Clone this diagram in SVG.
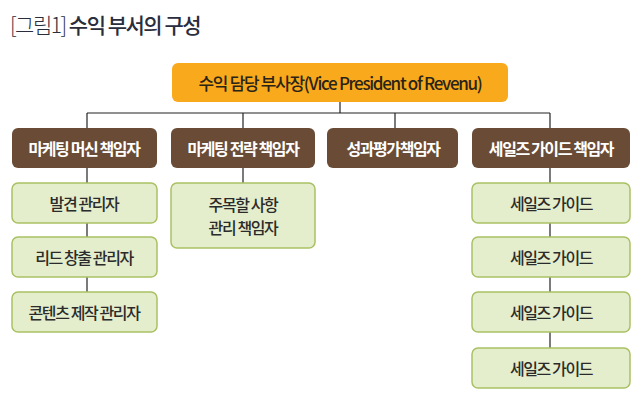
<svg xmlns="http://www.w3.org/2000/svg" width="640" height="402" viewBox="0 0 640 402">
<style>
text{font-family:"Noto Sans CJK KR","Noto Sans",sans-serif;text-anchor:middle;dominant-baseline:central}
.top{fill:#F8A91C}
.brown{fill:#6A4C36}
.green{fill:#E4EDCC;stroke:#A9C163;stroke-width:1.5}
.t1{font-size:16px;font-weight:700;fill:#ffffff;letter-spacing:-1.4px}
.t2{font-size:16px;font-weight:500;fill:#2b2b2b;letter-spacing:-1.4px}
.conn line{stroke:#222;stroke-width:1.2}
</style>
<rect width="640" height="402" fill="#ffffff"/>
<text id="title" x="10" y="24" style="text-anchor:start;font-size:21px;fill:#2a2d3c;letter-spacing:-1.5px"><tspan font-weight="300">[그림1]</tspan><tspan font-weight="500"> 수익 부서의 구성</tspan></text>
<g id="connectors" class="conn">
<line x1="340" y1="102" x2="340" y2="113"/>
<line x1="87" y1="113" x2="550" y2="113"/>
<line x1="87" y1="113" x2="87" y2="128"/>
<line x1="243" y1="113" x2="243" y2="128"/>
<line x1="395" y1="113" x2="395" y2="128"/>
<line x1="550" y1="113" x2="550" y2="128"/>
<line x1="87" y1="168" x2="87" y2="183"/>
<line x1="87" y1="223" x2="87" y2="237"/>
<line x1="87" y1="277" x2="87" y2="292"/>
<line x1="243" y1="168" x2="243" y2="183"/>
<line x1="550" y1="168" x2="550" y2="183"/>
<line x1="550" y1="223" x2="550" y2="237"/>
<line x1="550" y1="277" x2="550" y2="292"/>
<line x1="550" y1="332" x2="550" y2="348"/>
</g>
<g id="vp"><rect class="top" x="172" y="63" width="336" height="39" rx="6"/><text x="340" y="82" style="font-size:17px;font-weight:500;fill:#2a2418;letter-spacing:-1.3px">수익 담당 부사장(Vice President of Revenu)</text></g>
<g id="mkt-machine"><rect class="brown" x="12" y="128" width="145" height="40" rx="6"/><text class="t1" x="84" y="148">마케팅 머신 책임자</text></g>
<g id="mkt-strategy"><rect class="brown" x="171" y="128" width="144" height="40" rx="6"/><text class="t1" x="243" y="148">마케팅 전략 책임자</text></g>
<g id="perf-eval"><rect class="brown" x="327" y="128" width="131" height="40" rx="6"/><text class="t1" x="393" y="148">성과평가책임자</text></g>
<g id="sales-guide-lead"><rect class="brown" x="472" y="128" width="158" height="40" rx="6"/><text class="t1" x="551" y="148">세일즈 가이드 책임자</text></g>
<g id="discovery"><rect class="green" x="12" y="183" width="145" height="40" rx="6"/><text class="t2" x="84" y="203">발견 관리자</text></g>
<g id="lead-gen"><rect class="green" x="12" y="237" width="145" height="40" rx="6"/><text class="t2" x="84" y="257">리드 창출 관리자</text></g>
<g id="content"><rect class="green" x="12" y="292" width="145" height="40" rx="6"/><text class="t2" x="84" y="312">콘텐츠 제작 관리자</text></g>
<g id="watch"><rect class="green" x="171" y="183" width="144" height="65" rx="6"/><text class="t2" x="243" y="204">주목할 사항</text><text class="t2" x="243" y="227">관리 책임자</text></g>
<g id="sg1"><rect class="green" x="472" y="183" width="158" height="40" rx="6"/><text class="t2" x="551" y="203">세일즈 가이드</text></g>
<g id="sg2"><rect class="green" x="472" y="237" width="158" height="40" rx="6"/><text class="t2" x="551" y="257">세일즈 가이드</text></g>
<g id="sg3"><rect class="green" x="472" y="292" width="158" height="40" rx="6"/><text class="t2" x="551" y="312">세일즈 가이드</text></g>
<g id="sg4"><rect class="green" x="472" y="348" width="158" height="40" rx="6"/><text class="t2" x="551" y="368">세일즈 가이드</text></g>
</svg>
